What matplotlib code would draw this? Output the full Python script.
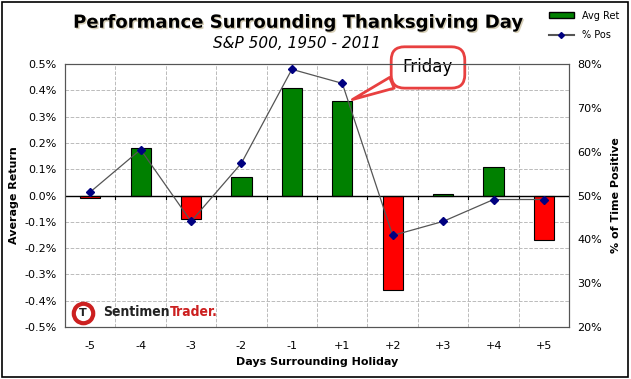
import matplotlib.pyplot as plt
import matplotlib.patheffects as pe
from matplotlib.ticker import FuncFormatter, MultipleLocator
from matplotlib.transforms import offset_copy

# data
days = ['-5', '-4', '-3', '-2', '-1', '+1', '+2', '+3', '+4', '+5']
avg_ret = [-0.01, 0.18, -0.09, 0.07, 0.41, 0.36, -0.36, 0.005, 0.11, -0.17]
pct_pos = [50.8, 60.5, 44.1, 57.4, 78.8, 75.6, 40.9, 44.1, 49.1, 49.1]

x = list(range(len(days)))
colors = ['#008000' if v >= 0 else '#ff0000' for v in avg_ret]

fig = plt.figure(figsize=(6.31, 3.79), dpi=100)
fig.patch.set_facecolor('white')
# outer frame
fig.patches.append(plt.Rectangle((0.003, 0.004), 0.993, 0.992, transform=fig.transFigure,
                                 fill=False, edgecolor='black', linewidth=1.2))

ax = fig.add_axes([0.103, 0.137, 0.799, 0.694])
ax.set_xlim(-0.5, 9.5)
ax.set_ylim(-0.5, 0.5)

ax.bar(x, avg_ret, width=0.4, color=colors, edgecolor='black', linewidth=0.8, zorder=3)
ax.axhline(0, color='black', linewidth=1, zorder=4)

# zero-line tick marks at category boundaries
for b in range(1, 10):
    ax.plot([b - 0.5, b - 0.5], [0, -0.012], color='black', linewidth=0.8, zorder=4)

ax.yaxis.set_major_locator(MultipleLocator(0.1))
ax.yaxis.set_major_formatter(FuncFormatter(lambda v, p: f'{v:.1f}%'))
ax.set_xticks(x)
ax.set_xticklabels(days)
ax.set_xticks([i + 0.5 for i in range(9)], minor=True)
ax.tick_params(axis='x', which='both', length=0, pad=10, labelsize=8)
ax.tick_params(axis='y', length=0, labelsize=8, pad=6)
ax.grid(True, which='minor', axis='x', color='#bbbbbb', linestyle='--', linewidth=0.7)
ax.grid(True, which='major', axis='y', color='#bbbbbb', linestyle='--', linewidth=0.7)
ax.set_axisbelow(True)
for s in ax.spines.values():
    s.set_color('#555555')
ax.set_ylabel('Average Return', fontsize=8, fontweight='bold', labelpad=4)
ax.set_xlabel('Days Surrounding Holiday', fontsize=8, fontweight='bold', labelpad=4)

ax2 = ax.twinx()
ax2.set_ylim(20, 80)
ax2.plot(x, pct_pos, color='#555555', linewidth=0.9, marker='D', markersize=4,
         markerfacecolor='#000080', markeredgecolor='#000080', zorder=5)
ax2.yaxis.set_major_locator(MultipleLocator(10))
ax2.yaxis.set_major_formatter(FuncFormatter(lambda v, p: f'{v:.0f}%'))
ax2.tick_params(axis='y', length=0, labelsize=8, pad=6)
ax2.set_ylabel('% of Time Positive', fontsize=8, fontweight='bold', labelpad=6)
for s in ax2.spines.values():
    s.set_color('#555555')

# titles
fig.text(0.47, 0.94, 'Performance Surrounding Thanksgiving Day', ha='center', va='center',
         fontsize=13, fontweight='bold', color='black',
         path_effects=[pe.withSimplePatchShadow(offset=(1, -1), shadow_rgbFace='#b0a070', alpha=0.5)])
fig.text(0.47, 0.885, 'S&P 500, 1950 - 2011', ha='center', va='center',
         fontsize=11, fontstyle='italic')

# legend
lg_bar = plt.Rectangle((0, 0), 1, 1, facecolor='#008000', edgecolor='black')
lg_line, = ax.plot([], [], color='#555555', marker='D', markersize=3,
                   markerfacecolor='#000080', markeredgecolor='#000080')
fig.legend([lg_bar, lg_line], ['Avg Ret', '% Pos'], loc='upper right',
           bbox_to_anchor=(0.995, 0.995), frameon=False, fontsize=7,
           handlelength=2.6, handleheight=0.6, labelspacing=1.0)

# callout
ax.annotate('Friday', xy=(5.2, 0.365), xytext=(6.7, 0.487), fontsize=12,
            ha='center', va='center', zorder=6,
            bbox=dict(boxstyle='round,pad=0.7,rounding_size=0.8', facecolor='white',
                      edgecolor='#e84040', linewidth=2),
            arrowprops=dict(arrowstyle='wedge,tail_width=0.7', facecolor='white',
                            edgecolor='#e84040', linewidth=2, shrinkA=0, shrinkB=0))

# logo
ax.plot([0.035], [0.055], transform=ax.transAxes, marker='o', markersize=14,
        markerfacecolor='white', markeredgecolor='#cc2020', markeredgewidth=3,
        zorder=6, clip_on=False)
ax.text(0.035, 0.055, 'T', transform=ax.transAxes, fontsize=8, fontweight='bold',
        color='#222222', ha='center', va='center', zorder=7)
t1 = ax.text(0.075, 0.03, 'Sentimen', transform=ax.transAxes, fontsize=10,
             fontweight='bold', color='#222222', va='bottom', ha='left', zorder=6,
             stretch='condensed')
fig.canvas.draw()
w = t1.get_window_extent().width
ax.text(0.075, 0.03, 'Trader.', transform=offset_copy(ax.transAxes, fig=fig, x=w, y=0, units='dots'),
        fontsize=10, fontweight='bold', color='#cc2020', va='bottom', ha='left',
        zorder=6, stretch='condensed')

fig.savefig('out.png', dpi=100)
